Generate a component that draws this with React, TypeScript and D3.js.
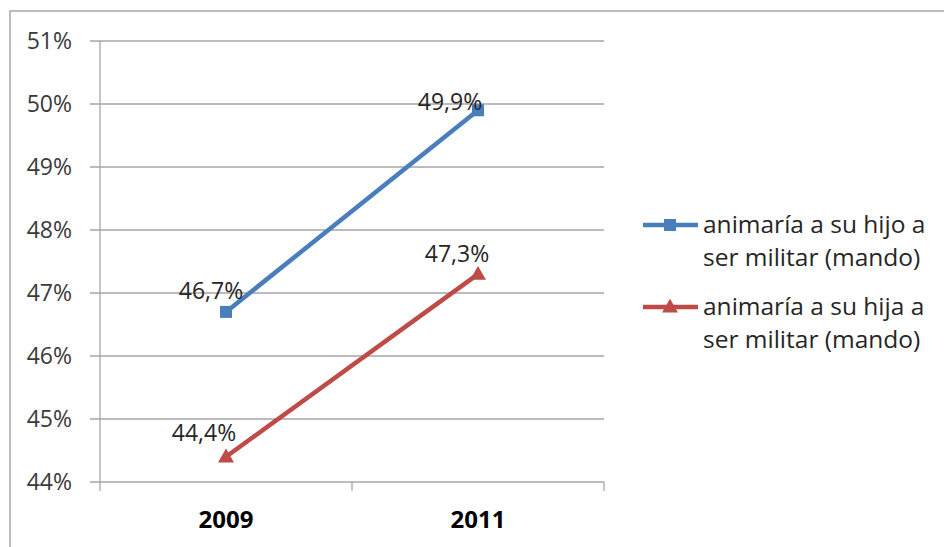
import * as d3 from "d3";

const years = ["2009", "2011"];
const hijoValues = [0.467, 0.499];
const hijaValues = [0.444, 0.473];
const hijoLabels = ["46,7%", "49,9%"];
const hijaLabels = ["44,4%", "47,3%"];
const yTicks = [0.44, 0.45, 0.46, 0.47, 0.48, 0.49, 0.5, 0.51];
const seriesNames = [
  ["animaría a su hijo a", "ser militar (mando)"],
  ["animaría a su hija a", "ser militar (mando)"],
];

const BLUE = "#4a7ebb";
const RED = "#be4b48";
const GRID = "#a6a6a6";
const FONT = "'Open Sans', 'Noto Sans', sans-serif";

export default function App() {
  const width = 944;
  const height = 547;
  const plot = { left: 100, right: 604, top: 41, bottom: 482 };

  const x = d3.scaleBand<string>().domain(years).range([plot.left, plot.right]);
  const y = d3.scaleLinear().domain([0.44, 0.51]).range([plot.bottom, plot.top]);
  const cx = (d: string) => (x(d) ?? 0) + x.bandwidth() / 2;

  const line = d3
    .line<number>()
    .x((_, i) => cx(years[i]))
    .y((v) => y(v));

  const tri = d3.symbol(d3.symbolTriangle, 110)();
  const series = [
    { values: hijoValues, labels: hijoLabels, color: BLUE, marker: "square" },
    { values: hijaValues, labels: hijaLabels, color: RED, marker: "triangle" },
  ];
  // label nudges [dx, dy] per series/point, as placed in the original
  const nudges = [
    [[-15, -13], [-28, 0]],
    [[-22, -16], [-21, -12]],
  ];

  const boundaries = years.map((d) => (x(d) ?? 0) + x.bandwidth());

  const marker = (kind: string, px: number, py: number, color: string, key: string) =>
    kind === "square" ? (
      <rect key={key} x={px - 6} y={py - 6} width={12} height={12} fill={color} />
    ) : (
      <path key={key} d={tri ?? ""} transform={`translate(${px},${py + 1})`} fill={color} />
    );

  return (
    <div style={{ position: "fixed", left: 0, top: 0 }}>
      <svg width={width} height={height} style={{ display: "block", background: "#fff" }} fontFamily={FONT}>
        {/* outer frame */}
        <rect x={10} y={11} width={1000} height={700} fill="none" stroke={GRID} strokeWidth={1.5} />

        {/* gridlines + y ticks */}
        {yTicks.map((t) => (
          <g key={t}>
            <line x1={plot.left - 10} x2={plot.right} y1={y(t)} y2={y(t)} stroke={GRID} strokeWidth={1.3} />
            <text x={72} y={y(t)} dy="0.36em" textAnchor="end" fontSize={23} fill="#3a3a3a">
              {`${Math.round(t * 100)}%`}
            </text>
          </g>
        ))}
        <line x1={plot.left} x2={plot.left} y1={plot.top} y2={plot.bottom + 9} stroke={GRID} strokeWidth={1.3} />
        {boundaries.map((b) => (
          <line key={b} x1={b} x2={b} y1={plot.bottom} y2={plot.bottom + 9} stroke={GRID} strokeWidth={1.3} />
        ))}

        {/* x labels */}
        {years.map((d) => (
          <text key={d} x={cx(d)} y={528} textAnchor="middle" fontSize={24} fontWeight="bold" fill="#000">
            {d}
          </text>
        ))}

        {/* series */}
        {series.map((s, si) => (
          <g key={si}>
            <path d={line(s.values) ?? ""} fill="none" stroke={s.color} strokeWidth={4.5} strokeLinecap="round" />
            {s.values.map((v, i) => marker(s.marker, cx(years[i]), y(v), s.color, `m${i}`))}
            {s.values.map((v, i) => (
              <text
                key={`l${i}`}
                x={cx(years[i]) + nudges[si][i][0]}
                y={y(v) + nudges[si][i][1]}
                textAnchor="middle"
                fontSize={23}
                fill="#262626"
              >
                {s.labels[i]}
              </text>
            ))}
          </g>
        ))}

        {/* legend */}
        {series.map((s, si) => {
          const ly = 225 + si * 82;
          return (
            <g key={si}>
              <line x1={643} x2={698} y1={ly} y2={ly} stroke={s.color} strokeWidth={4.5} />
              {marker(s.marker, 670, ly, s.color, "lm")}
              {seriesNames[si].map((t, li) => (
                <text key={li} x={703} y={ly + 8 + li * 33} fontSize={24.5} fill="#262626">
                  {t}
                </text>
              ))}
            </g>
          );
        })}
      </svg>
    </div>
  );
}
